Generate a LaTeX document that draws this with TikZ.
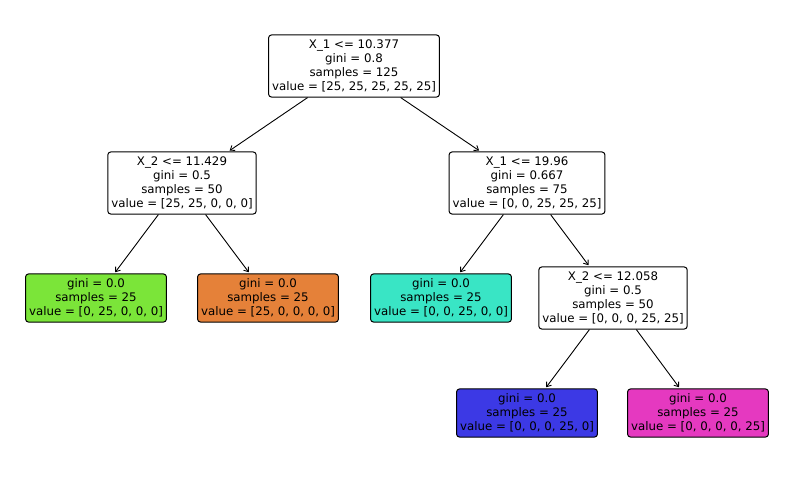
\documentclass[tikz,border=0pt]{standalone}
\usepackage{fontspec}
\setmainfont{DejaVu Sans}
\usetikzlibrary{arrows.meta}
\definecolor{cgreen}{HTML}{7BE539}
\definecolor{corange}{HTML}{E58139}
\definecolor{ccyan}{HTML}{39E5C5}
\definecolor{cblue}{HTML}{3C39E5}
\definecolor{cmagenta}{HTML}{E539C0}
\tikzset{treenode/.style = {draw, rounded corners=3pt, line width=1pt, align=center,
    inner xsep=3.5pt, inner ysep=4.6pt, font=\fontsize{11.8}{14.2}\selectfont},
  edge/.style = {-{Straight Barb[length=4pt,width=6pt]}, line width=0.9pt, shorten >=1.5pt}}
\begin{document}
\begin{tikzpicture}[x=1pt, y=-1pt]
    \useasboundingbox (0,0) rectangle (794,482);
    \node[treenode] (root) at (354,66) {X\_1 <= 10.377\\gini = 0.8\\samples = 125\\value = [25, 25, 25, 25, 25]};
    \node[treenode] (l) at (182,183) {X\_2 <= 11.429\\gini = 0.5\\samples = 50\\value = [25, 25, 0, 0, 0]};
    \node[treenode] (r) at (527,183) {X\_1 <= 19.96\\gini = 0.667\\samples = 75\\value = [0, 0, 25, 25, 25]};
    \node[treenode, fill=cgreen] (ll) at (96,298) {gini = 0.0\\samples = 25\\value = [0, 25, 0, 0, 0]};
    \node[treenode, fill=corange] (lr) at (268,298) {gini = 0.0\\samples = 25\\value = [25, 0, 0, 0, 0]};
    \node[treenode, fill=ccyan] (rl) at (441,298) {gini = 0.0\\samples = 25\\value = [0, 0, 25, 0, 0]};
    \node[treenode] (rr) at (613,298) {X\_2 <= 12.058\\gini = 0.5\\samples = 50\\value = [0, 0, 0, 25, 25]};
    \node[treenode, fill=cblue] (rrl) at (527,413) {gini = 0.0\\samples = 25\\value = [0, 0, 0, 25, 0]};
    \node[treenode, fill=cmagenta] (rrr) at (698,413) {gini = 0.0\\samples = 25\\value = [0, 0, 0, 0, 25]};
    \draw[edge] (root) -- (l);
    \draw[edge] (root) -- (r);
    \draw[edge] (l) -- (ll);
    \draw[edge] (l) -- (lr);
    \draw[edge] (r) -- (rl);
    \draw[edge] (r) -- (rr);
    \draw[edge] (rr) -- (rrl);
    \draw[edge] (rr) -- (rrr);
\end{tikzpicture}
\end{document}
